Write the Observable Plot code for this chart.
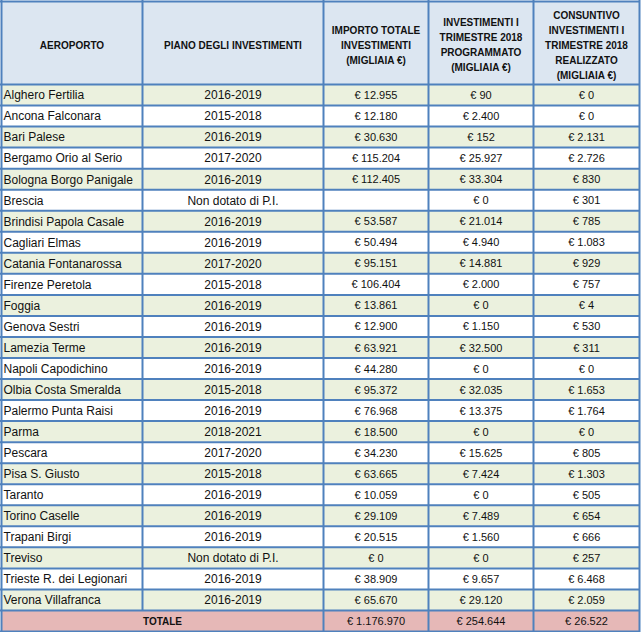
<!DOCTYPE html>
<html>
<head>
<meta charset="utf-8">
<script src="https://cdn.jsdelivr.net/npm/d3@7"></script>
<script src="https://cdn.jsdelivr.net/npm/@observablehq/plot@0.6"></script>
<style>
  html, body { margin: 0; padding: 0; background: #ffffff; }
  #chart svg { display: block; }
</style>
</head>
<body>
<div id="chart"></div>
<script>
// ---- Data ----
const headers = [
  "AEROPORTO",
  "PIANO DEGLI INVESTIMENTI",
  "IMPORTO TOTALE\nINVESTIMENTI\n(MIGLIAIA €)",
  "INVESTIMENTI I\nTRIMESTRE 2018\nPROGRAMMATO\n(MIGLIAIA €)",
  "CONSUNTIVO\nINVESTIMENTI I\nTRIMESTRE 2018\nREALIZZATO\n(MIGLIAIA €)"
];
const airports = [
  "Alghero Fertilia", "Ancona Falconara", "Bari Palese", "Bergamo Orio al Serio",
  "Bologna Borgo Panigale", "Brescia", "Brindisi Papola Casale", "Cagliari Elmas",
  "Catania Fontanarossa", "Firenze Peretola", "Foggia", "Genova Sestri",
  "Lamezia Terme", "Napoli Capodichino", "Olbia Costa Smeralda", "Palermo Punta Raisi",
  "Parma", "Pescara", "Pisa S. Giusto", "Taranto", "Torino Caselle", "Trapani Birgi",
  "Treviso", "Trieste R. dei Legionari", "Verona Villafranca"
];
const plans = [
  "2016-2019", "2015-2018", "2016-2019", "2017-2020", "2016-2019", "Non dotato di P.I.",
  "2016-2019", "2016-2019", "2017-2020", "2015-2018", "2016-2019", "2016-2019",
  "2016-2019", "2016-2019", "2015-2018", "2016-2019", "2018-2021", "2017-2020",
  "2015-2018", "2016-2019", "2016-2019", "2016-2019", "Non dotato di P.I.",
  "2016-2019", "2016-2019"
];
const importoTotale = [
  12955, 12180, 30630, 115204, 112405, null, 53587, 50494, 95151, 106404, 13861, 12900,
  63921, 44280, 95372, 76968, 18500, 34230, 63665, 10059, 29109, 20515, 0, 38909, 65670
];
const programmato = [
  90, 2400, 152, 25927, 33304, 0, 21014, 4940, 14881, 2000, 0, 1150,
  32500, 0, 32035, 13375, 0, 15625, 7424, 0, 7489, 1560, 0, 9657, 29120
];
const realizzato = [
  0, 0, 2131, 2726, 830, 301, 785, 1083, 929, 757, 4, 530,
  311, 0, 1653, 1764, 0, 805, 1303, 505, 654, 666, 257, 6468, 2059
];
const totalLabel = "TOTALE";
const totals = [1176970, 254644, 26522];

// ---- Layout ----
const W = 641, H = 632;
const colEdges = [1, 142, 323, 428, 533, 639];
const tableTop = 1, headerBottom = 84, tableBottom = 631;
const nRows = airports.length + 1;
const rowH = (tableBottom - headerBottom) / nRows;
const rowTop = i => headerBottom + i * rowH;
const colMid = j => (colEdges[j] + colEdges[j + 1]) / 2;

const COLORS = {
  header: "#dce6f1", odd: "#ebf1de", even: "#ffffff", total: "#e6b8b7",
  border: "#4f81bd", text: "#111111"
};

const locale = d3.formatLocale({decimal: ",", thousands: ".", grouping: [3], currency: ["€ ", ""]});
const euro = v => (v == null ? "" : locale.format("$,")(v));

// ---- Derived tables ----
const bg = [{x1: colEdges[0], x2: colEdges[5], y1: tableTop, y2: headerBottom, fill: COLORS.header}];
airports.forEach((a, i) => bg.push({
  x1: colEdges[0], x2: colEdges[5], y1: rowTop(i), y2: rowTop(i + 1),
  fill: i % 2 === 0 ? COLORS.odd : COLORS.even
}));
bg.push({x1: colEdges[0], x2: colEdges[5], y1: rowTop(nRows - 1), y2: tableBottom, fill: COLORS.total});

const headerText = headers.map((h, j) => ({x: colMid(j), y: (tableTop + headerBottom) / 2 + 1, text: h}));

const leftText = airports.map((a, i) => ({x: colEdges[0] + 2, y: rowTop(i) + rowH / 2 + 0.5, text: a}));
const centerText = [];
airports.forEach((a, i) => {
  const y = rowTop(i) + rowH / 2 + 0.5;
  centerText.push({x: colMid(1), y, text: plans[i], size: 12});
  centerText.push({x: colMid(2), y, text: euro(importoTotale[i]), size: 11});
  centerText.push({x: colMid(3), y, text: euro(programmato[i]), size: 11});
  centerText.push({x: colMid(4), y, text: euro(realizzato[i]), size: 11});
});
const totY = rowTop(nRows - 1) + rowH / 2 + 0.5;
const totalText = totals.map((v, k) => ({x: colMid(k + 2), y: totY, text: euro(v)}));

const hLines = [tableTop, headerBottom, ...d3.range(1, nRows).map(rowTop), tableBottom];
const vLines = colEdges.map((x, j) => ({x, y1: tableTop, y2: j === 1 ? rowTop(nRows - 1) : tableBottom}));

const chart = Plot.plot({
  width: W, height: H,
  margin: 0,
  x: {type: "identity", axis: null},
  y: {type: "identity", axis: null},
  color: {type: "identity"},
  style: {fontFamily: "'Liberation Sans', Arial, sans-serif", background: "#ffffff"},
  marks: [
    Plot.rect(bg, {x1: "x1", x2: "x2", y1: "y1", y2: "y2", fill: "fill"}),
    Plot.ruleY(hLines, {y: d => d, x1: colEdges[0] - 1, x2: colEdges[5] + 1, stroke: COLORS.border, strokeWidth: 2}),
    Plot.ruleX(vLines, {x: "x", y1: d => d.y1 - 1, y2: d => d.y2 + 1, stroke: COLORS.border, strokeWidth: 2}),
    Plot.text(headerText, {x: "x", y: "y", text: "text", fontSize: 10, fontWeight: "bold", lineHeight: 1.5, fill: COLORS.text}),
    Plot.text(leftText, {x: "x", y: "y", text: "text", textAnchor: "start", fontSize: 12, fill: COLORS.text}),
    Plot.text(centerText.filter(d => d.size === 12), {x: "x", y: "y", text: "text", fontSize: 12, fill: COLORS.text}),
    Plot.text(centerText.filter(d => d.size === 11), {x: "x", y: "y", text: "text", fontSize: 11, fill: COLORS.text}),
    Plot.text([{x: (colEdges[0] + colEdges[2]) / 2, y: totY, text: totalLabel}], {x: "x", y: "y", text: "text", fontSize: 10, fontWeight: "bold", fill: COLORS.text}),
    Plot.text(totalText, {x: "x", y: "y", text: "text", fontSize: 11, fill: COLORS.text})
  ]
});
document.getElementById("chart").appendChild(chart);
</script>
</body>
</html>
